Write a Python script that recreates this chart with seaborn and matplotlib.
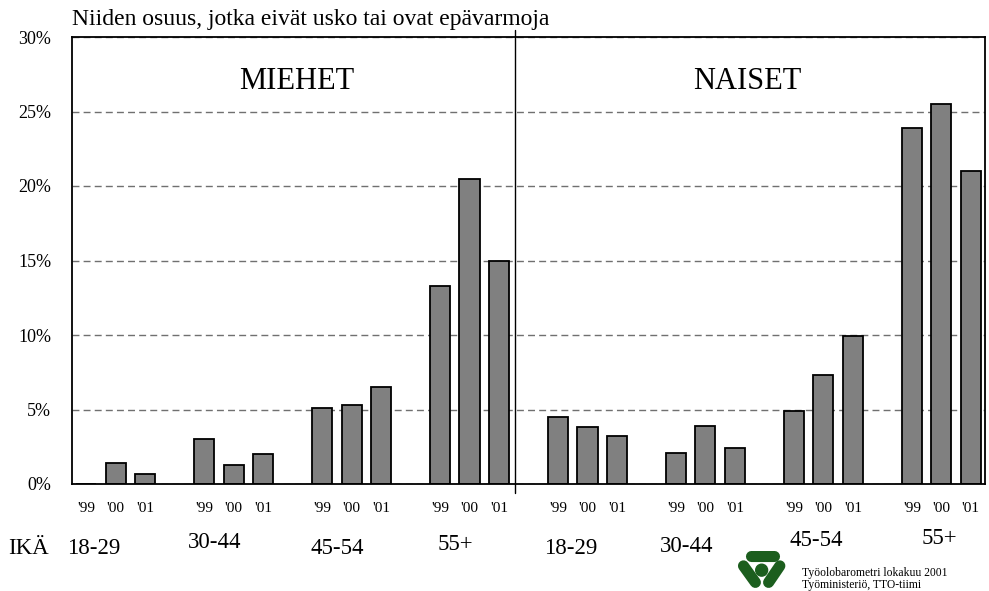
import numpy as np
import pandas as pd
import matplotlib.pyplot as plt
import seaborn as sns
from matplotlib.ticker import FuncFormatter

# data (% who don't believe / are unsure)
age_groups = ['18-29', '30-44', '45-54', '55+']
years = ["'99", "'00", "'01"]
genders = ['MIEHET', 'NAISET']
miehet = [0.0, 1.4, 0.7, 3.0, 1.3, 2.0, 5.1, 5.3, 6.5, 13.3, 20.5, 15.0]
naiset = [4.5, 3.8, 3.2, 2.1, 3.9, 2.4, 4.9, 7.3, 9.9, 23.9, 25.5, 21.0]
y_ticks = [0, 5, 10, 15, 20, 25, 30]

# layout: slot of each bar (gap slot between age groups)
rows = []
for g, vals in enumerate([miehet, naiset]):
    for i, v in enumerate(vals):
        grp, yr = divmod(i, 3)
        rows.append({'gender': genders[g], 'age': age_groups[grp], 'year': years[yr],
                     'pos': g * 16 + grp * 4 + yr, 'value': v})
df = pd.DataFrame(rows)

sns.set_theme(style='white')
plt.rcParams['font.family'] = ['Liberation Serif', 'DejaVu Serif']
plt.rcParams['text.color'] = 'black'

fig = plt.figure(figsize=(9.89, 5.91), dpi=100)
ax = fig.add_axes([72 / 989, 1 - 484 / 591, 913 / 989, 447 / 591])

sns.barplot(data=df, x='pos', y='value', native_scale=True, width=0.68,
            color='#808080', saturation=1, edgecolor='black', linewidth=1.3, ax=ax)

ax.set_xlim(-0.48, 30.48)
ax.set_ylim(0, 30)
ax.set_yticks(y_ticks)
ax.yaxis.set_major_formatter(FuncFormatter(lambda v, p: f'{v:.0f}%'))
ax.set_xticks(df['pos'])
ax.set_xticklabels(df['year'])
ax.tick_params(axis='both', length=0, colors='black')
ax.tick_params(axis='x', pad=13, labelsize=11)
ax.tick_params(axis='y', pad=15, labelsize=13)
ax.set_xlabel('')
ax.set_ylabel('')

ax.set_axisbelow(True)
ax.yaxis.grid(True, color='#707070', linestyle=(0, (5, 3)), linewidth=1)
for s in ax.spines.values():
    s.set_visible(True)
    s.set_color('black')
    s.set_linewidth(1.3)

# divider between men and women
ax.plot([14.55, 14.55], [-0.02, 1.015], transform=ax.get_xaxis_transform(),
        color='black', linewidth=1, clip_on=False)

ax.text(0.246, 0.9, genders[0], transform=ax.transAxes, ha='center', va='center', fontsize=22)
ax.text(0.74, 0.9, genders[1], transform=ax.transAxes, ha='center', va='center', fontsize=22)

fig.text(72 / 989, 1 - 25 / 591, 'Niiden osuus, jotka eivät usko tai ovat epävarmoja',
         ha='left', va='baseline', fontsize=17)

# age group labels below the year ticks
x_off = [-0.74, -0.64, -0.5, -0.47, -0.57, -0.64, -0.24, -0.07]
y_pix = [548, 543, 548, 545, 548, 547, 541, 538]
for k in range(8):
    g, grp = divmod(k, 4)
    cx = g * 16 + grp * 4 + 1 + x_off[k]
    ax.annotate(age_groups[grp], xy=(cx, 591 - y_pix[k]), xycoords=('data', 'figure pixels'),
                ha='center', va='center', fontsize=16.5, annotation_clip=False)
fig.text(8 / 989, 1 - 548 / 591, 'IKÄ', ha='left', va='center', fontsize=16.5)

# logo + source
lax = fig.add_axes([736 / 989, 1 - 589 / 591, 50 / 989, 38 / 591])
lax.set_xlim(140, 290)
lax.set_ylim(260, 145)
lax.set_aspect('equal')
lax.axis('off')
green = '#1c5e1e'
lax.plot([184, 254], [160, 160], color=green, lw=8, solid_capstyle='round')
lax.plot([162, 198], [190, 240], color=green, lw=8, solid_capstyle='round')
lax.plot([272, 238], [190, 240], color=green, lw=8, solid_capstyle='round')
lax.add_patch(plt.Circle((217, 203), 18, color=green))

fig.text(802 / 989, 1 - 573 / 591, 'Työolobarometri lokakuu 2001', ha='left', va='center', fontsize=8.4)
fig.text(802 / 989, 1 - 585 / 591, 'Työministeriö, TTO-tiimi', ha='left', va='center', fontsize=8.4)

fig.savefig('out.png', dpi=100)
